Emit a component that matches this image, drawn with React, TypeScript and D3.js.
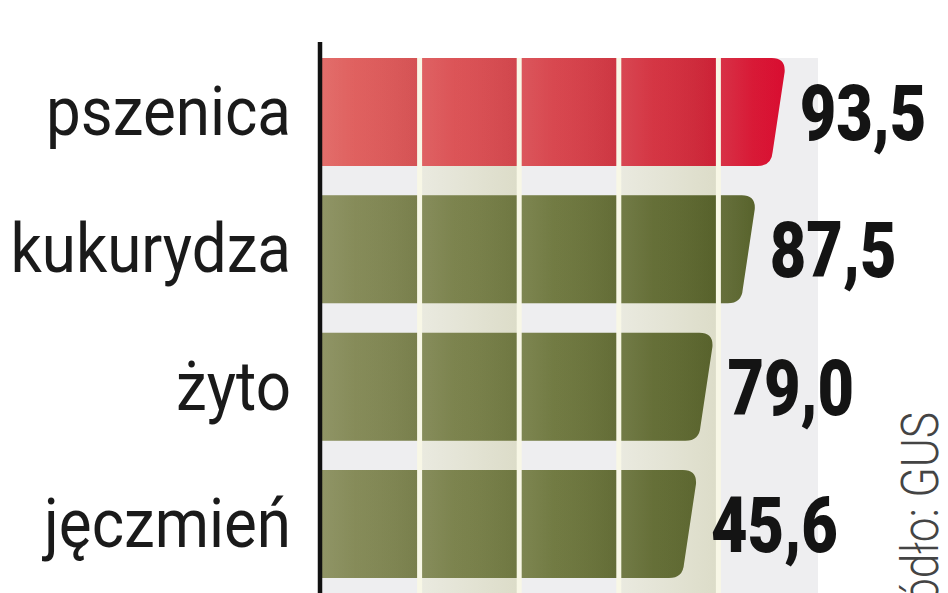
import React from "react";
import * as d3 from "d3";

// ---- data ----
const categories: string[] = ["pszenica", "kukurydza", "żyto", "jęczmień"];
const values: number[] = [93.5, 87.5, 79.0, 45.6];
// bar extents as drawn in the original graphic (the last bar is not to scale)
const barExtent: number[] = [93.5, 87.5, 79.0, 75.7];
const gridTicks: number[] = [20, 40, 60, 80];
const highlight: string[] = ["pszenica"];
const sourceText = "źródło: GUS";

const W = 948;
const H = 593;

const fmt = (v: number) => d3.format(".1f")(v).replace(".", ",");

export default function App() {
  const x = d3.scaleLinear().domain([0, 100]).range([320, 818]);
  const y = d3
    .scaleBand<string>()
    .domain(categories)
    .range([58, 578])
    .paddingInner(0.214)
    .paddingOuter(0);
  const bw = y.bandwidth();
  const r = 14;
  const slant = 14;

  const barPath = (cat: string, ext: number) => {
    const x0 = x(0) + 2;
    const x1 = x(ext);
    const y0 = y(cat)!;
    const y1 = y0 + bw;
    const p = d3.path();
    p.moveTo(x0, y0);
    p.lineTo(x1 - r, y0);
    p.quadraticCurveTo(x1, y0, x1 - 1, y0 + r);
    p.lineTo(x1 - slant + 1, y1 - r);
    p.quadraticCurveTo(x1 - slant, y1, x1 - slant - r, y1);
    p.lineTo(x0, y1);
    p.closePath();
    return p.toString();
  };

  const edges = [0, ...gridTicks, 100];
  const cells = d3.pairs(edges);

  return (
    <svg
      width={W}
      height={H}
      style={{ position: "absolute", left: 0, top: 0, background: "#ffffff" }}
    >
      <defs>
        <linearGradient id="gRed" gradientUnits="userSpaceOnUse" x1={x(0)} x2={x(94)} y1={0} y2={0}>
          <stop offset="0" stopColor="#e0625f" />
          <stop offset="0.5" stopColor="#d7444c" />
          <stop offset="0.8" stopColor="#d22a3b" />
          <stop offset="1" stopColor="#db082d" />
        </linearGradient>
        <linearGradient id="gGreen" gradientUnits="userSpaceOnUse" x1={x(0)} x2={x(88)} y1={0} y2={0}>
          <stop offset="0" stopColor="#878c5a" />
          <stop offset="0.5" stopColor="#717a41" />
          <stop offset="1" stopColor="#556028" />
        </linearGradient>
        <linearGradient id="gCell" x1="0" x2="1" y1="0" y2="0">
          <stop offset="0" stopColor="#ffffff" stopOpacity={0.08} />
          <stop offset="0.35" stopColor="#ffffff" stopOpacity={0.02} />
          <stop offset="1" stopColor="#000000" stopOpacity={0.04} />
        </linearGradient>
        <linearGradient id="gBeige" x1="0" x2="1" y1="0" y2="0">
          <stop offset="0" stopColor="#eaeae0" />
          <stop offset="1" stopColor="#dcdcc8" />
        </linearGradient>
        {categories.map((c, i) => (
          <clipPath id={`clip${i}`} key={c}>
            <path d={barPath(c, barExtent[i])} />
          </clipPath>
        ))}
      </defs>

      {/* background panel columns */}
      {cells.map(([a, b], i) => (
        <rect
          key={`col${i}`}
          x={x(a)}
          y={y(categories[0])!}
          width={x(b) - x(a)}
          height={H - y(categories[0])!}
          fill={i % 2 === 1 ? "url(#gBeige)" : "#eeeef0"}
        />
      ))}

      {/* bars */}
      {categories.map((c, i) => (
        <g key={c}>
          <path
            d={barPath(c, barExtent[i])}
            fill={highlight.includes(c) ? "url(#gRed)" : "url(#gGreen)"}
          />
          <g clipPath={`url(#clip${i})`}>
            {cells.map(([a, b], j) => (
              <rect
                key={j}
                x={x(a)}
                y={y(c)!}
                width={x(b) - x(a)}
                height={bw}
                fill="url(#gCell)"
              />
            ))}
          </g>
        </g>
      ))}

      {/* grid lines */}
      {gridTicks.map((t) => (
        <line
          key={t}
          x1={x(t)}
          x2={x(t)}
          y1={y(categories[0])!}
          y2={H}
          stroke="#f8f7e6"
          strokeWidth={5}
        />
      ))}

      {/* axis */}
      <line x1={x(0)} x2={x(0)} y1={42} y2={H} stroke="#111111" strokeWidth={4.5} />

      {/* category labels */}
      {categories.map((c) => (
        <text
          key={`l${c}`}
          transform={`translate(291, ${y(c)! + bw / 2 + 23}) scale(0.91, 1)`}
          textAnchor="end"
          fontFamily="Roboto, sans-serif"
          fontSize={68}
          fill="#1a1a1a"
        >
          {c}
        </text>
      ))}

      {/* value labels */}
      {categories.map((c, i) => (
        <text
          key={`v${c}`}
          transform={`translate(${x(barExtent[i]) + 14}, ${y(c)! + bw / 2 + 28}) scale(0.82, 1)`}
          fontFamily="Roboto, sans-serif"
          fontWeight={900}
          fontSize={77}
          fill="#141414"
        >
          {fmt(values[i])}
        </text>
      ))}

      {/* source */}
      <text
        transform={`translate(938, 412) rotate(-90) scale(0.85, 1)`}
        textAnchor="end"
        fontFamily="Roboto, sans-serif"
        fontWeight={300}
        fontSize={52}
        fill="#444444"
      >
        {sourceText}
      </text>
    </svg>
  );
}
